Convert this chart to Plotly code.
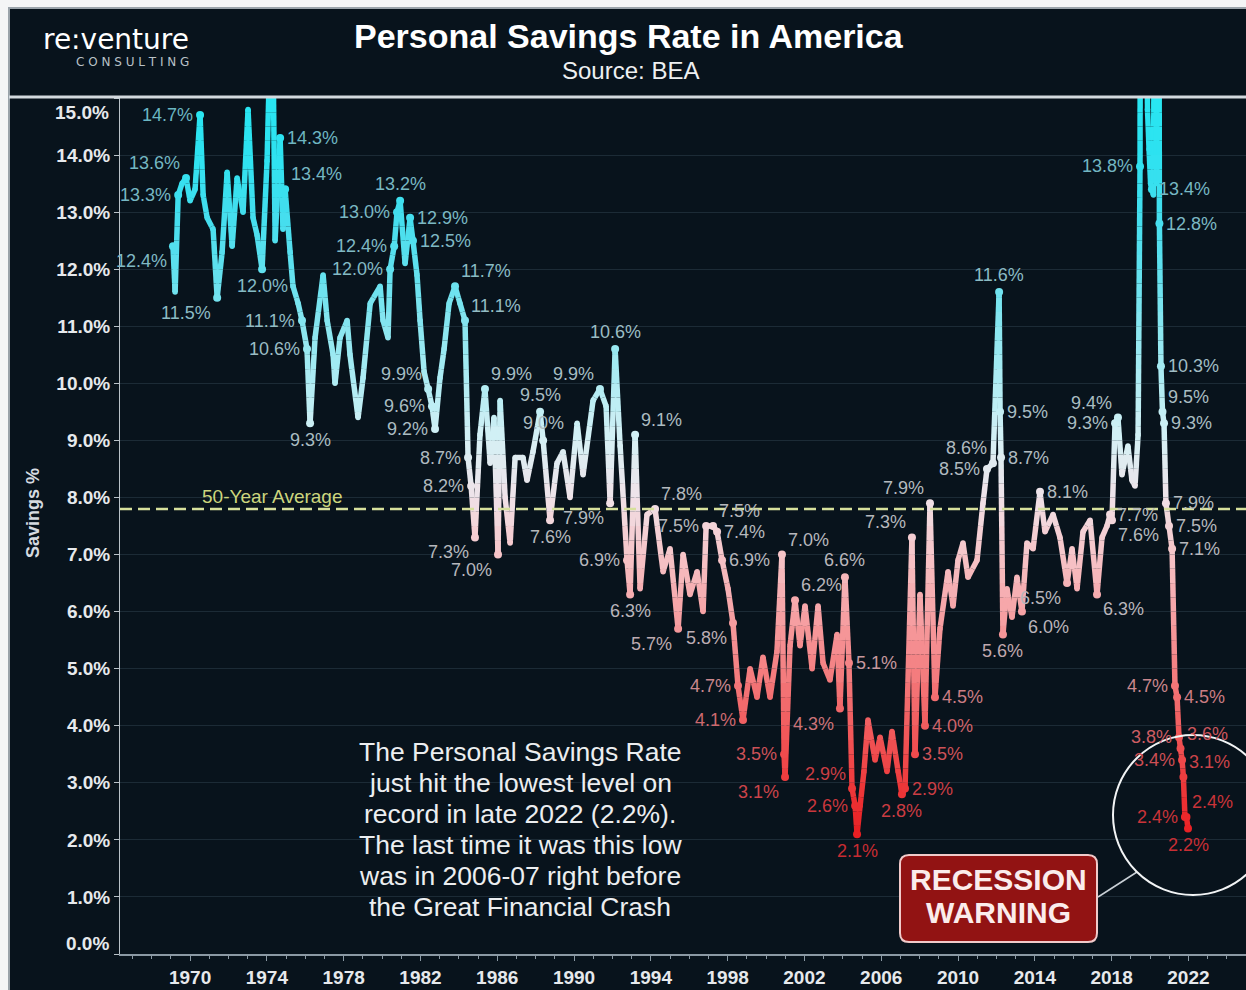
import plotly.graph_objects as go

# ---------------- data ----------------
years = [
    1969.11, 1969.22, 1969.38, 1969.58, 1969.79, 1970.00, 1970.26, 1970.52, 1970.68, 1970.89,
    1971.20, 1971.41, 1971.67, 1971.93, 1972.19, 1972.45, 1972.76, 1973.02, 1973.28, 1973.49,
    1973.75, 1974.01, 1974.27, 1974.43, 1974.69, 1974.84, 1974.95, 1975.21, 1975.36, 1975.63,
    1975.83, 1976.09, 1976.25, 1976.51, 1976.93, 1977.14, 1977.45, 1977.55, 1977.81, 1978.18,
    1978.33, 1978.75, 1979.01, 1979.38, 1979.90, 1980.05, 1980.31, 1980.42, 1980.63, 1980.78,
    1980.94, 1981.20, 1981.46, 1981.61, 1981.82, 1981.98, 1982.19, 1982.40, 1982.60, 1982.76,
    1983.02, 1983.23, 1983.49, 1983.80, 1984.06, 1984.32, 1984.48, 1984.64, 1984.84, 1985.10,
    1985.36, 1985.63, 1985.83, 1986.04, 1986.15, 1986.41, 1986.67, 1986.93, 1987.34, 1987.55,
    1987.86, 1988.23, 1988.39, 1988.75, 1989.11, 1989.43, 1989.79, 1990.16, 1990.47, 1990.99,
    1991.35, 1991.67, 1991.88, 1992.14, 1992.40, 1992.76, 1992.92, 1993.18, 1993.44, 1993.80,
    1994.22, 1994.64, 1995.00, 1995.42, 1995.68, 1996.04, 1996.41, 1996.72, 1996.88, 1997.24,
    1997.45, 1997.71, 1998.02, 1998.28, 1998.54, 1998.80, 1999.17, 1999.53, 1999.84, 2000.21,
    2000.57, 2000.83, 2000.94, 2000.99, 2001.25, 2001.51, 2001.77, 2002.03, 2002.40, 2002.71,
    2002.97, 2003.33, 2003.70, 2003.85, 2004.11, 2004.32, 2004.48, 2004.64, 2004.74, 2004.90,
    2005.10, 2005.31, 2005.68, 2005.94, 2006.30, 2006.56, 2006.88, 2007.08, 2007.24, 2007.60,
    2007.76, 2008.02, 2008.28, 2008.54, 2008.80, 2009.06, 2009.48, 2009.74, 2010.00, 2010.26,
    2010.52, 2010.99, 2011.30, 2011.51, 2011.82, 2012.14, 2012.19, 2012.24, 2012.34, 2012.55,
    2012.81, 2013.07, 2013.33, 2013.59, 2013.91, 2014.27, 2014.53, 2014.95, 2015.31, 2015.68,
    2015.94, 2016.20, 2016.51, 2016.88, 2017.24, 2017.50, 2017.76, 2017.92, 2018.02, 2018.18,
    2018.33, 2018.54, 2018.85, 2019.06, 2019.22, 2019.38, 2019.48, 2019.56, 2019.64, 2019.71,
    2019.79, 2019.87, 2019.95, 2020.03, 2020.10, 2020.18, 2020.26, 2020.34, 2020.42, 2020.49,
    2020.57, 2020.65, 2020.73, 2020.83, 2020.99, 2021.15, 2021.30, 2021.41, 2021.51, 2021.59,
    2021.67, 2021.74, 2021.82, 2021.90, 2021.98,
]
rates = [
    12.4, 11.6, 13.3, 13.5, 13.6, 13.2, 13.4, 14.7, 13.3, 12.9,
    12.7, 11.5, 12.3, 13.7, 12.4, 13.6, 13.0, 14.8, 12.9, 12.6,
    12.0, 13.9, 17.3, 12.5, 14.3, 12.7, 13.4, 12.3, 11.7, 11.4,
    11.1, 10.6, 9.3, 10.8, 11.9, 11.1, 10.5, 10.0, 10.8, 11.1,
    10.5, 9.4, 10.1, 11.4, 11.7, 11.1, 10.8, 12.0, 12.4, 13.0,
    13.2, 12.1, 12.9, 12.5, 11.9, 11.1, 10.2, 9.9, 9.6, 9.2,
    10.1, 10.6, 11.4, 11.7, 11.4, 11.1, 8.7, 8.2, 7.3, 9.1,
    9.9, 8.6, 9.4, 7.0, 9.7, 8.0, 7.2, 8.7, 8.7, 8.3,
    8.8, 9.5, 9.0, 7.6, 8.6, 8.8, 8.0, 9.3, 8.4, 9.7,
    9.9, 9.6, 7.9, 10.6, 8.9, 6.9, 6.3, 9.1, 6.4, 7.7,
    7.8, 6.7, 7.1, 5.7, 7.0, 6.3, 6.7, 6.0, 7.5, 7.5,
    7.4, 6.9, 6.4, 5.8, 4.7, 4.1, 5.0, 4.5, 5.2, 4.5,
    5.3, 7.0, 3.5, 3.1, 5.4, 6.2, 5.4, 6.1, 5.0, 6.1,
    5.1, 4.8, 5.6, 4.3, 6.6, 5.1, 2.9, 2.6, 2.1, 2.6,
    3.2, 4.1, 3.4, 3.8, 3.2, 3.9, 3.2, 2.8, 2.9, 7.3,
    3.5, 6.3, 4.0, 7.9, 4.5, 5.7, 6.7, 6.1, 6.9, 7.2,
    6.6, 6.9, 7.9, 8.5, 8.6, 11.6, 9.5, 8.7, 5.6, 6.4,
    5.9, 6.6, 6.0, 7.2, 7.1, 8.1, 7.4, 7.7, 7.3, 6.5,
    7.1, 6.4, 7.4, 7.6, 6.3, 7.3, 7.5, 7.7, 7.6, 9.3,
    9.4, 8.4, 8.9, 8.3, 8.2, 9.1, 13.8, 33.8, 24.8, 19.2,
    19.3, 14.8, 14.1, 13.5, 13.4, 13.3, 19.9, 13.5, 26.6, 12.8,
    10.3, 9.5, 9.3, 7.9, 7.5, 7.1, 4.7, 4.5, 3.8, 3.6,
    3.4, 3.1, 2.4, 2.4, 2.2,
]

# labelled points: (year, side of the label)
label_marks = [
    (1969.11, "LB"), (1969.38, "L"), (1969.79, "LA"), (1970.52, "L"), (1971.41, "LB"),
    (1973.75, "B"), (1974.69, "R"), (1974.95, "RA"), (1975.83, "L"), (1976.09, "L"),
    (1976.25, "B"), (1980.42, "L"), (1980.63, "L"), (1980.78, "L"), (1980.94, "A"),
    (1981.46, "R"), (1981.61, "R"), (1982.40, "LA"), (1982.60, "L"), (1982.76, "L"),
    (1983.80, "RA"), (1984.32, "RA"), (1984.48, "L"), (1984.64, "L"), (1984.84, "LB"),
    (1985.36, "RA"), (1986.04, "LB"), (1988.23, "A"), (1988.39, "A"), (1988.75, "B"),
    (1991.35, "LA"), (1991.88, "LB"), (1992.14, "A"), (1992.76, "L"), (1992.92, "B"),
    (1993.18, "RA"), (1994.22, "RA"), (1995.42, "LB"), (1996.88, "L"), (1997.24, "RA"),
    (1997.45, "R"), (1997.71, "R"), (1998.28, "LB"), (1998.54, "L"), (1998.80, "L"),
    (2000.83, "RA"), (2000.94, "L"), (2000.99, "LB"), (2001.51, "RA"), (2003.85, "LB"),
    (2004.11, "A"), (2004.32, "R"), (2004.48, "LA"), (2004.64, "L"), (2004.74, "B"),
    (2007.08, "B"), (2007.24, "R"), (2007.60, "LA"), (2007.76, "R"), (2008.28, "R"),
    (2008.54, "LA"), (2008.80, "R"), (2011.51, "L"), (2011.82, "LA"), (2012.14, "A"),
    (2012.19, "R"), (2012.24, "R"), (2012.34, "B"), (2013.33, "RB"), (2014.27, "R"),
    (2015.68, "LB"), (2017.24, "RB"), (2017.92, "R"), (2018.02, "RB"), (2018.18, "L"),
    (2018.33, "LA"), (2019.48, "L"), (2020.10, "R"), (2020.49, "R"), (2020.57, "R"),
    (2020.65, "RA"), (2020.73, "R"), (2020.83, "R"), (2020.99, "R"), (2021.15, "R"),
    (2021.30, "L"), (2021.41, "R"), (2021.51, "L"), (2021.59, "RA"), (2021.67, "L"),
    (2021.74, "RA"), (2021.82, "L"), (2021.90, "RA"), (2021.98, "B"),
]

FIFTY_YEAR_AVG = 7.8
x_tick_years = list(range(1970, 2023, 4))
y_tick_values = list(range(0, 16))
note_lines = [
    "The Personal Savings Rate",
    "just hit the lowest level on",
    "record in late 2022 (2.2%).",
    "The last time it was this low",
    "was in 2006-07 right before",
    "the Great Financial Crash",
]

# ---------------- styling ----------------
W, H = 1246, 990
ML, MR, MT, MB = 120, 0, 98, 36
PW, PH = W - ML - MR, H - MT - MB
BG = "#08131c"
SANS = "Liberation Sans, Arial, sans-serif"
WIDE = "DejaVu Sans, Verdana, sans-serif"

LINE_STOPS = [(2, (232, 28, 32)), (3, (238, 58, 60)), (4, (241, 92, 94)), (5, (244, 128, 130)),
              (6, (246, 163, 166)), (7, (246, 196, 200)), (8, (240, 226, 232)), (9, (214, 240, 245)),
              (10, (176, 236, 243)), (11, (136, 230, 240)), (12, (96, 224, 238)), (13, (66, 222, 238)),
              (14, (46, 226, 240)), (15, (40, 230, 242))]
LABEL_STOPS = [(2, (200, 42, 48)), (3, (204, 64, 70)), (4, (206, 100, 106)), (5, (200, 150, 156)),
               (6, (186, 180, 186)), (8, (180, 186, 190)), (10, (165, 190, 196)), (12, (132, 186, 196)),
               (14, (112, 182, 194)), (15, (105, 182, 194))]


def grad(stops, v):
    v = max(stops[0][0], min(stops[-1][0], v))
    for (a, ca), (b, cb) in zip(stops[:-1], stops[1:]):
        if a <= v <= b:
            t = (v - a) / (b - a)
            c = [round(ca[k] + (cb[k] - ca[k]) * t) for k in range(3)]
            return f"rgb({c[0]},{c[1]},{c[2]})"
    c = stops[-1][1]
    return f"rgb({c[0]},{c[1]},{c[2]})"


def PX(px):
    return (px - ML) / PW


def PY(py):
    return (H - MB - py) / PH


fig = go.Figure()

# gradient-coloured line: each segment drawn in pieces coloured by their level
BIN = 0.25
TOP_BIN = int(15 / BIN)
groups = {}
for i in range(len(years) - 1):
    x0, y0, x1, y1 = years[i], rates[i], years[i + 1], rates[i + 1]
    ts = [0.0, 1.0]
    if y1 != y0:
        lo, hi = min(y0, y1), max(y0, y1)
        k = int(lo / BIN) + 1
        while k * BIN < min(hi, 15.0 + BIN):
            c = k * BIN
            if lo < c < hi:
                ts.append((c - y0) / (y1 - y0))
            k += 1
    ts.sort()
    for a, b in zip(ts[:-1], ts[1:]):
        xa, ya = x0 + (x1 - x0) * a, y0 + (y1 - y0) * a
        xb, yb = x0 + (x1 - x0) * b, y0 + (y1 - y0) * b
        key = min(int(((ya + yb) / 2) / BIN), TOP_BIN)
        g = groups.setdefault(key, ([], []))
        g[0].extend([xa, xb, None])
        g[1].extend([ya, yb, None])

for key in sorted(groups):
    xs, ys = groups[key]
    fig.add_trace(go.Scatter(
        x=xs, y=ys, mode="lines", hoverinfo="skip", showlegend=False,
        line=dict(color=grad(LINE_STOPS, (key + 0.5) * BIN), width=5.5),
    ))

# round joints
fig.add_trace(go.Scatter(
    x=years, y=rates, mode="markers", hoverinfo="skip", showlegend=False,
    marker=dict(size=5.5, color=[grad(LINE_STOPS, v) for v in rates], line=dict(width=0)),
))

# labelled points
idx = {y: i for i, y in enumerate(years)}
lab_x = [yr for yr, _ in label_marks]
lab_y = [rates[idx[yr]] for yr, _ in label_marks]
fig.add_trace(go.Scatter(
    x=lab_x, y=lab_y, mode="markers", hoverinfo="skip", showlegend=False,
    marker=dict(size=8, color=[grad(LINE_STOPS, v) for v in lab_y], line=dict(width=0)),
))

SIDES = {
    "L": ("right", -5, 0), "R": ("left", 5, 0), "A": ("center", 0, 17), "B": ("center", 0, -17),
    "LA": ("right", -4, 15), "LB": ("right", -4, -15), "RA": ("left", 4, 15), "RB": ("left", 4, -15),
}
annotations = []
for (yr, side), v in zip(label_marks, lab_y):
    xa, dx, dy = SIDES[side]
    annotations.append(dict(
        x=yr, y=v, xref="x", yref="y", text=f"{v:.1f}%", showarrow=False,
        xanchor=xa, yanchor="middle", xshift=dx, yshift=dy,
        font=dict(family=SANS, size=18, color=grad(LABEL_STOPS, v)),
    ))

# end tick labels of the y axis sit just inside the plot edges
for t, shift in ((y_tick_values[0], 11), (y_tick_values[-1], -14)):
    annotations.append(dict(
        x=PX(111), y=t, xref="paper", yref="y", text=f"{t:.1f}%", showarrow=False,
        xanchor="right", yanchor="middle", yshift=shift,
        font=dict(family=SANS, size=19, color="#e6e9ec", weight="bold"),
    ))

# note block, one line each
for i, line in enumerate(note_lines):
    annotations.append(dict(
        x=PX(520), y=PY(752 + 31 * i), xref="paper", yref="paper", text=line,
        showarrow=False, xanchor="center", yanchor="middle",
        font=dict(family=SANS, size=26.5, color="#eceef0"),
    ))

# header texts and callouts
annotations += [
    dict(x=PX(629), y=PY(36), xref="paper", yref="paper", text="Personal Savings Rate in America",
         showarrow=False, xanchor="center", yanchor="middle",
         font=dict(family=SANS, size=34, color="#ffffff", weight="bold")),
    dict(x=PX(630), y=PY(70), xref="paper", yref="paper", text="Source: BEA",
         showarrow=False, xanchor="center", yanchor="middle",
         font=dict(family=SANS, size=24, color="#eef0f2")),
    dict(x=PX(191), y=PY(39), xref="paper", yref="paper", text="re:venture",
         showarrow=False, xanchor="right", yanchor="middle",
         font=dict(family=WIDE, size=28, color="#ffffff")),
    dict(x=PX(191), y=PY(62), xref="paper", yref="paper", text="C O N S U L T I N G",
         showarrow=False, xanchor="right", yanchor="middle",
         font=dict(family=WIDE, size=12, color="#b9c1c7")),
    dict(x=PX(33), y=PY(513), xref="paper", yref="paper", text="Savings %", textangle=-90,
         showarrow=False, xanchor="center", yanchor="middle",
         font=dict(family=SANS, size=18, color="#d6dbe0", weight="bold")),
    dict(x=PX(272), y=FIFTY_YEAR_AVG, xref="paper", yref="y", text="50-Year Average",
         showarrow=False, xanchor="center", yanchor="middle", yshift=12,
         font=dict(family=SANS, size=19, color="#cdd67e")),
    dict(x=PX(998), y=PY(879), xref="paper", yref="paper", text="RECESSION",
         showarrow=False, xanchor="center", yanchor="middle",
         font=dict(family=SANS, size=30, color="#fbecec", weight="bold")),
    dict(x=PX(998), y=PY(912), xref="paper", yref="paper", text="WARNING",
         showarrow=False, xanchor="center", yanchor="middle",
         font=dict(family=SANS, size=30, color="#fbecec", weight="bold")),
]

# shapes
r = 9
bx0, bx1, by0, by1 = 900, 1097, 855, 942
box_path = (
    f"M {PX(bx0 + r)},{PY(by0)} L {PX(bx1 - r)},{PY(by0)} Q {PX(bx1)},{PY(by0)} {PX(bx1)},{PY(by0 + r)} "
    f"L {PX(bx1)},{PY(by1 - r)} Q {PX(bx1)},{PY(by1)} {PX(bx1 - r)},{PY(by1)} "
    f"L {PX(bx0 + r)},{PY(by1)} Q {PX(bx0)},{PY(by1)} {PX(bx0)},{PY(by1 - r)} "
    f"L {PX(bx0)},{PY(by0 + r)} Q {PX(bx0)},{PY(by0)} {PX(bx0 + r)},{PY(by0)} Z"
)
shapes = [
    # white outer margins and frame
    dict(type="rect", xref="paper", yref="paper", x0=PX(-5), x1=PX(8), y0=PY(H + 5), y1=PY(-5),
         fillcolor="#f4f5f6", line=dict(width=0)),
    dict(type="rect", xref="paper", yref="paper", x0=PX(-5), x1=PX(W + 5), y0=PY(7), y1=PY(-5),
         fillcolor="#f4f5f6", line=dict(width=0)),
    dict(type="line", xref="paper", yref="paper", x0=PX(9), x1=PX(9), y0=PY(H + 2), y1=PY(7),
         line=dict(color="#9aa3aa", width=2)),
    dict(type="line", xref="paper", yref="paper", x0=PX(8), x1=PX(W + 2), y0=PY(8), y1=PY(8),
         line=dict(color="#9aa3aa", width=2)),
    # header separator
    dict(type="line", xref="paper", yref="paper", x0=PX(9), x1=PX(W + 2), y0=PY(97), y1=PY(97),
         line=dict(color="#d3d9de", width=3)),
    # 50-year average
    dict(type="line", xref="paper", yref="y", x0=0, x1=1, y0=FIFTY_YEAR_AVG, y1=FIFTY_YEAR_AVG,
         line=dict(color="#d7e09c", width=2.5, dash="12px,6px"), layer="above"),
    # recession warning box, connector, circle
    dict(type="path", xref="paper", yref="paper", path=box_path,
         fillcolor="#921313", line=dict(color="#f1caca", width=2)),
    dict(type="line", xref="paper", yref="paper", x0=PX(1098), x1=PX(1137), y0=PY(897), y1=PY(872),
         line=dict(color="#c9d0d6", width=1.5)),
    dict(type="circle", xref="paper", yref="paper", x0=PX(1113), x1=PX(1273), y0=PY(895), y1=PY(735),
         line=dict(color="#f2f4f5", width=2)),
]

fig.update_layout(
    width=W, height=H,
    margin=dict(l=ML, r=MR, t=MT, b=MB, autoexpand=False),
    paper_bgcolor=BG, plot_bgcolor=BG,
    showlegend=False, hovermode=False,
    annotations=annotations, shapes=shapes,
    xaxis=dict(
        range=[1966.35, 2025.0], tickmode="array", tickvals=x_tick_years,
        ticktext=[str(y) for y in x_tick_years],
        showgrid=False, zeroline=False, showline=True, linecolor="#8b99a4", linewidth=2,
        ticks="outside", ticklen=5, tickcolor="#8b99a4", tickwidth=1,
        minor=dict(dtick=1, tick0=1970, ticks="outside", ticklen=3, tickcolor="#8b99a4", showgrid=False),
        tickfont=dict(family=SANS, size=19, color="#e6e9ec", weight="bold"),
        fixedrange=True,
    ),
    yaxis=dict(
        range=[0, 15], tickmode="array", tickvals=y_tick_values,
        ticktext=[""] + [f"{t:.1f}%" for t in y_tick_values[1:-1]] + [""],
        showgrid=True, gridcolor="rgba(110,140,160,0.20)", gridwidth=1, zeroline=False,
        showline=True, linecolor="#b9c2c9", linewidth=1,
        ticks="outside", ticklen=5, tickcolor="#b9c2c9",
        tickfont=dict(family=SANS, size=19, color="#e6e9ec", weight="bold"),
        fixedrange=True,
    ),
)

fig.write_html("out.html")
